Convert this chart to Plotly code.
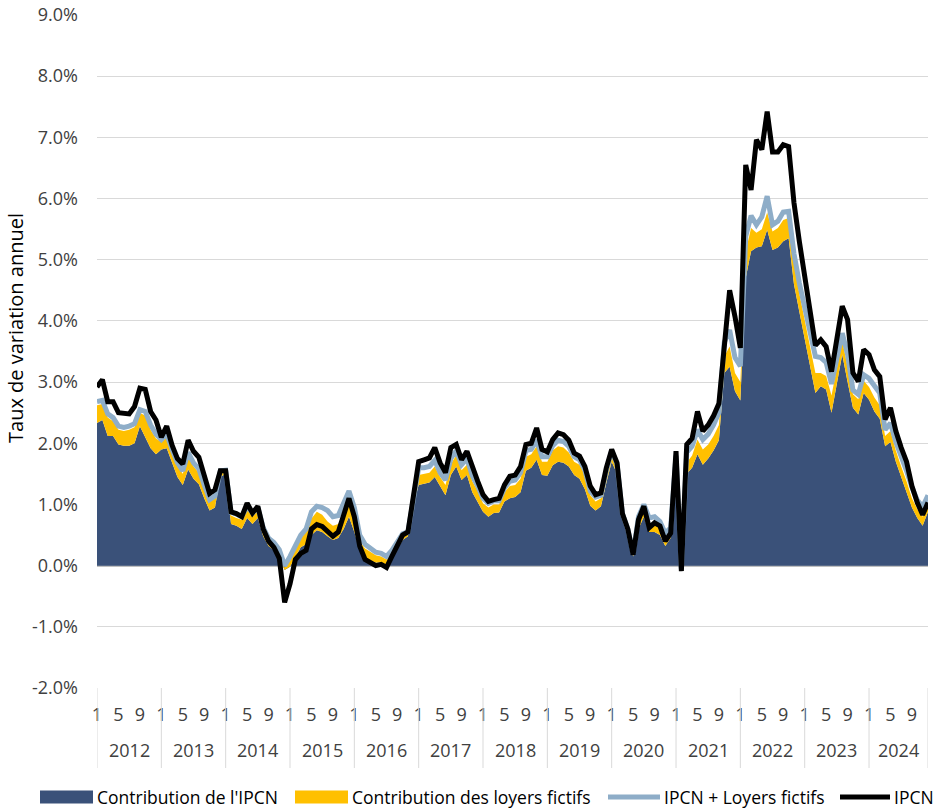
import plotly.graph_objects as go

years = [str(y) for y in range(2012, 2025)]
month_labels = ["1", "5", "9"]
y_ticks = [-2, -1, 0, 1, 2, 3, 4, 5, 6, 7, 8, 9]

# IPCN (annual rate, %)
ipcn = [
    2.92, 3.04, 2.68, 2.68, 2.50, 2.50, 2.48, 2.60, 2.90, 2.88, 2.52, 2.38,
    2.10, 2.28, 1.97, 1.75, 1.66, 2.05, 1.87, 1.77, 1.48, 1.18, 1.24, 1.55,
    1.55, 0.88, 0.85, 0.80, 1.02, 0.86, 0.97, 0.60, 0.40, 0.30, 0.12, -0.60,
    -0.30, 0.10, 0.20, 0.25, 0.60, 0.67, 0.64, 0.55, 0.48, 0.55, 0.82, 1.10,
    0.80, 0.32, 0.10, 0.06, 0.00, 0.02, -0.03, 0.15, 0.35, 0.50, 0.55, 1.13,
    1.70, 1.73, 1.76, 1.93, 1.68, 1.52, 1.93, 1.98, 1.73, 1.87, 1.60, 1.38,
    1.16, 1.05, 1.08, 1.10, 1.32, 1.46, 1.48, 1.62, 1.98, 2.00, 2.25, 1.90,
    1.86, 2.06, 2.17, 2.14, 2.05, 1.84, 1.79, 1.62, 1.30, 1.16, 1.19, 1.60,
    1.90, 1.68, 0.85, 0.60, 0.18, 0.75, 0.97, 0.62, 0.70, 0.65, 0.40, 0.53,
    1.87, -0.09, 1.98, 2.08, 2.52, 2.20, 2.30, 2.45, 2.65, 3.60, 4.50, 4.07,
    3.56, 6.55, 6.14, 6.96, 6.80, 7.42, 6.76, 6.76, 6.88, 6.85, 5.93, 5.30,
    4.70, 4.15, 3.60, 3.69, 3.58, 3.17, 3.70, 4.24, 4.02, 3.15, 3.01, 3.53,
    3.45, 3.20, 3.09, 2.39, 2.58, 2.20, 1.93, 1.70, 1.30, 1.03, 0.83, 1.03,
]

# IPCN + Loyers fictifs (%)
ipcn_loyers = [
    2.68, 2.70, 2.48, 2.42, 2.28, 2.26, 2.28, 2.32, 2.55, 2.52, 2.30, 2.15,
    2.06, 2.15, 1.90, 1.68, 1.55, 1.85, 1.68, 1.58, 1.32, 1.08, 1.14, 1.55,
    1.56, 0.87, 0.84, 0.80, 0.97, 0.86, 0.95, 0.62, 0.45, 0.38, 0.26, 0.00,
    0.15, 0.35, 0.50, 0.60, 0.88, 0.97, 0.95, 0.90, 0.80, 0.82, 1.03, 1.22,
    0.95, 0.50, 0.35, 0.28, 0.22, 0.20, 0.15, 0.25, 0.40, 0.52, 0.55, 1.10,
    1.60, 1.60, 1.62, 1.72, 1.52, 1.40, 1.75, 1.88, 1.65, 1.75, 1.47, 1.30,
    1.10, 1.02, 1.06, 1.06, 1.27, 1.38, 1.40, 1.52, 1.88, 1.90, 2.05, 1.78,
    1.78, 1.96, 2.05, 2.03, 1.95, 1.78, 1.73, 1.56, 1.22, 1.12, 1.15, 1.55,
    1.88, 1.65, 0.85, 0.60, 0.20, 0.80, 1.00, 0.78, 0.80, 0.72, 0.53, 0.62,
    1.80, -0.05, 1.85, 1.95, 2.22, 2.06, 2.15, 2.30, 2.50, 3.65, 3.85, 3.40,
    3.26, 5.38, 5.72, 5.57, 5.70, 6.04, 5.57, 5.63, 5.78, 5.79, 5.10, 4.62,
    4.20, 3.80, 3.42, 3.40, 3.32, 2.97, 3.40, 3.80, 3.45, 2.87, 2.80, 3.12,
    3.06, 2.95, 2.82, 2.22, 2.33, 2.02, 1.80, 1.55, 1.28, 1.07, 0.96, 1.15,
]

# Contribution de l'IPCN (percentage points)
contrib_ipcn = [
    2.33, 2.38, 2.12, 2.12, 1.98, 1.96, 1.96, 2.00, 2.28, 2.10, 1.92, 1.82,
    1.90, 1.92, 1.70, 1.45, 1.32, 1.57, 1.42, 1.33, 1.10, 0.90, 0.95, 1.45,
    1.50, 0.68, 0.65, 0.60, 0.78, 0.68, 0.78, 0.48, 0.32, 0.25, 0.13, -0.07,
    -0.02, 0.15, 0.30, 0.35, 0.50, 0.58, 0.55, 0.48, 0.42, 0.45, 0.60, 0.80,
    0.55, 0.25, 0.13, 0.08, 0.05, 0.05, 0.02, 0.12, 0.28, 0.42, 0.48, 1.00,
    1.32, 1.34, 1.36, 1.45, 1.30, 1.15, 1.48, 1.62, 1.40, 1.48, 1.20, 1.05,
    0.88, 0.80, 0.86, 0.87, 1.05, 1.10, 1.12, 1.20, 1.55, 1.60, 1.73, 1.48,
    1.47, 1.64, 1.70, 1.68, 1.62, 1.48, 1.42, 1.25, 0.98, 0.90, 0.97, 1.35,
    1.70, 1.50, 0.75, 0.50, 0.15, 0.60, 0.80, 0.55, 0.55, 0.50, 0.32, 0.45,
    1.75, -0.05, 1.50, 1.60, 1.82, 1.65, 1.75, 1.88, 2.05, 3.15, 3.25, 2.85,
    2.70, 4.70, 5.14, 5.20, 5.22, 5.49, 5.16, 5.20, 5.30, 5.35, 4.60, 4.15,
    3.70, 3.30, 2.82, 2.93, 2.88, 2.50, 3.00, 3.45, 3.00, 2.58, 2.47, 2.82,
    2.71, 2.52, 2.40, 1.95, 2.02, 1.70, 1.45, 1.20, 0.95, 0.78, 0.65, 0.88,
]

# Contribution des loyers fictifs (percentage points)
contrib_loyers = [
    0.29, 0.26, 0.30, 0.24, 0.24, 0.24, 0.26, 0.26, 0.22, 0.35, 0.30, 0.26,
    0.12, 0.18, 0.15, 0.17, 0.18, 0.21, 0.20, 0.19, 0.18, 0.15, 0.15, 0.05,
    0.05, 0.14, 0.13, 0.15, 0.14, 0.12, 0.12, 0.08, 0.06, 0.07, 0.07, 0.04,
    0.10, 0.15, 0.15, 0.20, 0.27, 0.30, 0.28, 0.24, 0.23, 0.23, 0.25, 0.30,
    0.30, 0.15, 0.15, 0.14, 0.12, 0.10, 0.08, 0.08, 0.07, 0.06, 0.04, 0.05,
    0.16, 0.16, 0.16, 0.17, 0.15, 0.17, 0.18, 0.18, 0.16, 0.17, 0.18, 0.17,
    0.14, 0.15, 0.14, 0.13, 0.15, 0.20, 0.20, 0.22, 0.23, 0.22, 0.22, 0.22,
    0.23, 0.24, 0.25, 0.25, 0.23, 0.22, 0.23, 0.23, 0.17, 0.15, 0.13, 0.15,
    0.12, 0.10, 0.07, 0.06, 0.03, 0.10, 0.10, 0.10, 0.13, 0.12, 0.10, 0.10,
    0.05, 0.02, 0.18, 0.20, 0.24, 0.25, 0.23, 0.24, 0.25, 0.27, 0.33, 0.30,
    0.30, 0.44, 0.38, 0.24, 0.28, 0.28, 0.30, 0.32, 0.35, 0.33, 0.35, 0.30,
    0.30, 0.30, 0.33, 0.22, 0.22, 0.28, 0.25, 0.23, 0.25, 0.22, 0.25, 0.20,
    0.21, 0.23, 0.22, 0.17, 0.18, 0.18, 0.17, 0.18, 0.15, 0.14, 0.15, 0.15,
]

series_names = ["Contribution de l'IPCN", "Contribution des loyers fictifs",
                "IPCN + Loyers fictifs", "IPCN"]

n = len(ipcn)
x = list(range(n))

DARK = "#3A5179"
YELLOW = "#FFC000"
LIGHT = "#8EADC8"
BLACK = "#000000"
FONT = "Open Sans"
FS = 18
TXT = "#404040"

# pixel geometry of the plot area (figure is 943 x 812)
L_PX, R_PX, T_PX, B_PX = 97, 928, 15, 688
PW, PH = R_PX - L_PX, B_PX - T_PX


def px_x(p):
    return (p - L_PX) / PW


def px_y(p):
    return (B_PX - p) / PH


fig = go.Figure()
fig.add_trace(go.Scatter(x=x, y=contrib_ipcn, name=series_names[0],
                         stackgroup="s", mode="lines", line=dict(width=0, color=DARK),
                         fillcolor=DARK, showlegend=False))
fig.add_trace(go.Scatter(x=x, y=contrib_loyers, name=series_names[1],
                         stackgroup="s", mode="lines", line=dict(width=0, color=YELLOW),
                         fillcolor=YELLOW, showlegend=False))
fig.add_trace(go.Scatter(x=x, y=ipcn_loyers, name=series_names[2],
                         mode="lines", line=dict(width=5, color=LIGHT), showlegend=False))
fig.add_trace(go.Scatter(x=x, y=ipcn, name=series_names[3],
                         mode="lines", line=dict(width=5, color=BLACK), showlegend=False))

# month tick labels (1, 5, 9 of each year)
tickvals, ticktext = [], []
for i in range(n):
    m = i % 12 + 1
    if str(m) in month_labels:
        tickvals.append(i)
        ticktext.append(str(m))

shapes = []
annotations = []
for k, yr in enumerate(years):
    start = 12 * k
    end = min(12 * k + 12, n - 1)
    annotations.append(dict(x=(start + end) / 2, y=px_y(750), xref="x", yref="paper",
                            text=yr, showarrow=False, xanchor="center", yanchor="middle",
                            font=dict(family=FONT, size=FS, color=TXT)))
    shapes.append(dict(type="line", xref="x", yref="paper", x0=start, x1=start,
                       y0=0, y1=px_y(768), line=dict(color="#D9D9D9", width=1)))
shapes.append(dict(type="line", xref="x", yref="paper", x0=n - 1, x1=n - 1,
                   y0=0, y1=px_y(768), line=dict(color="#D9D9D9", width=1)))

annotations.append(dict(x=px_x(15), y=px_y(328), xref="paper", yref="paper",
                        text="Taux de variation annuel", textangle=-90, showarrow=False,
                        xanchor="center", yanchor="middle",
                        font=dict(family=FONT, size=20, color=BLACK)))

# legend drawn in the bottom band
LFS = 17.5
leg_y = 797
leg_items = [
    ("rect", DARK, 40, 93, series_names[0], 95),
    ("rect", YELLOW, 295, 348, series_names[1], 350),
    ("line", LIGHT, 608, 660, series_names[2], 662),
    ("line", BLACK, 840, 890, series_names[3], 892),
]
for kind, col, a, b, label, tx in leg_items:
    if kind == "rect":
        shapes.append(dict(type="rect", xref="paper", yref="paper",
                           x0=px_x(a), x1=px_x(b), y0=px_y(leg_y + 6.5), y1=px_y(leg_y - 6.5),
                           fillcolor=col, line=dict(width=0)))
    else:
        shapes.append(dict(type="line", xref="paper", yref="paper",
                           x0=px_x(a), x1=px_x(b), y0=px_y(leg_y), y1=px_y(leg_y),
                           line=dict(color=col, width=5)))
    annotations.append(dict(x=px_x(tx), y=px_y(leg_y), xref="paper", yref="paper",
                            text=label, showarrow=False, xanchor="left", yanchor="middle",
                            font=dict(family=FONT, size=LFS, color=BLACK)))

fig.update_layout(
    width=943, height=812,
    margin=dict(l=L_PX, r=943 - R_PX, t=T_PX, b=812 - B_PX, autoexpand=False),
    paper_bgcolor="white", plot_bgcolor="white",
    font=dict(family=FONT, size=FS, color=TXT),
    showlegend=False,
    shapes=shapes,
    annotations=annotations,
)
fig.update_xaxes(range=[0, n - 1], showgrid=False, zeroline=False, showline=False,
                 tickvals=tickvals, ticktext=ticktext, ticks="", automargin=False,
                 ticklabelstandoff=14,
                 tickfont=dict(family=FONT, size=FS, color=TXT))
fig.update_yaxes(range=[-2, 9], tickvals=y_ticks,
                 ticktext=[f"{v:.1f}%" for v in y_ticks],
                 showgrid=True, gridcolor="#D9D9D9", gridwidth=1,
                 zeroline=True, zerolinecolor="#BFBFBF", zerolinewidth=1.5,
                 showline=False, ticks="", ticklabelstandoff=18, automargin=False,
                 tickfont=dict(family=FONT, size=FS, color=TXT))

fig.write_html("out.html", config={"displayModeBar": False},
               post_script="document.body.style.margin='0';")
